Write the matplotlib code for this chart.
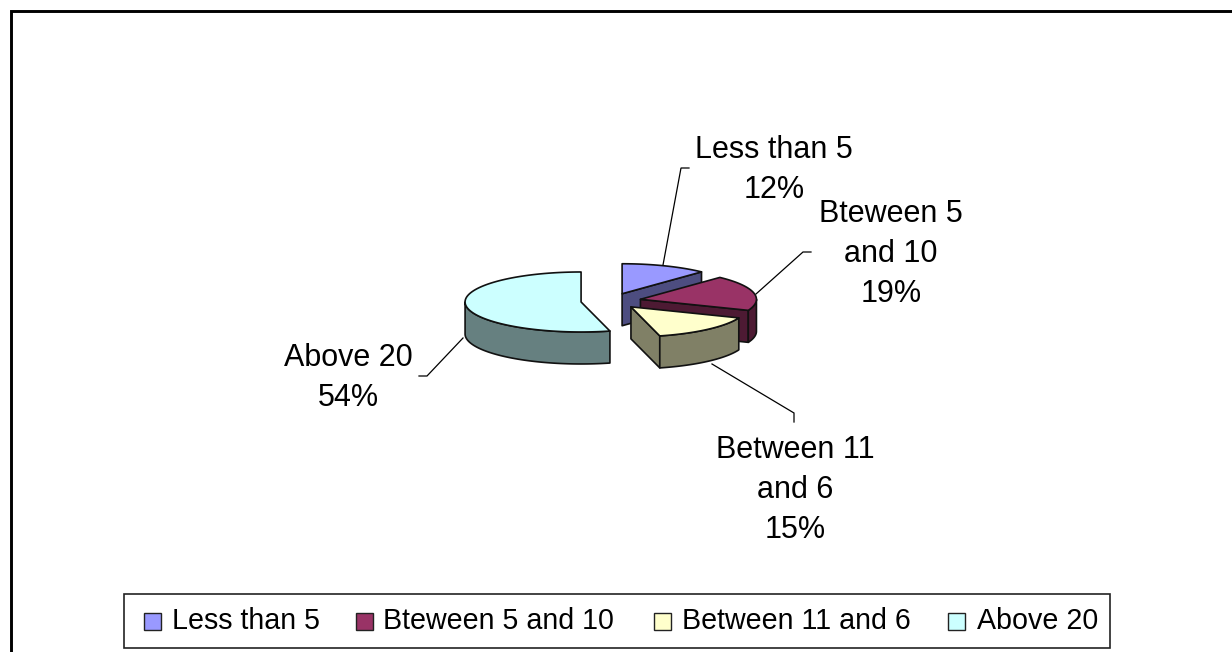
import numpy as np
import matplotlib
matplotlib.use('Agg')
import matplotlib.pyplot as plt
from matplotlib.patches import Polygon, Rectangle

labels = ['Less than 5', 'Bteween 5 and 10', 'Between 11 and 6', 'Above 20']
wrapped_labels = ['Less than 5', 'Bteween 5\nand 10', 'Between 11\nand 6', 'Above 20']
percents = [12, 19, 15, 54]
top_colors = ['#9999FF', '#993366', '#FFFFCC', '#CCFFFF']
side_colors = ['#4D4D80', '#4D1A33', '#808066', '#668080']

# pie geometry in figure pixels
CX, CY = 611, 301
RX, RY = 116, 30
DEPTH = 32
EXPLODE = 0.26

label_pos = [(774, 170), (891, 254), (795, 490), (348, 378)]
leaders = [
    [(663, 265), (681, 168), (689, 168)],
    [(756, 294), (803, 252), (811, 252)],
    [(712, 364), (794, 413), (794, 422)],
    [(463, 338), (427, 376), (419, 376)],
]

plt.rcParams['font.family'] = ['Liberation Sans', 'DejaVu Sans']

fig = plt.figure(figsize=(12.32, 6.52), dpi=100)
ax = fig.add_axes([0, 0, 1, 1])
ax.set_xlim(0, 1232)
ax.set_ylim(652, 0)
ax.axis('off')


def ellipse_pts(cx, cy, angles):
    rad = np.radians(angles)
    return np.column_stack([cx + RX * np.cos(rad), cy - RY * np.sin(rad)])


def extrude(pts):
    lower = pts[::-1] + [0, DEPTH]
    return np.vstack([pts, lower])


edge = dict(edgecolor='#111111', linewidth=1.2, joinstyle='round')
start = 90.0
for pct, top, side in zip(percents, top_colors, side_colors):
    end = start - pct * 3.6
    mid = np.radians((start + end) / 2)
    cx = CX + EXPLODE * RX * np.cos(mid)
    cy = CY - EXPLODE * RY * np.sin(mid)

    # cut face on the clockwise end, only when it faces the viewer
    if np.cos(np.radians(end)) > 1e-6:
        face = np.vstack([[[cx, cy]], ellipse_pts(cx, cy, [end])])
        ax.add_patch(Polygon(extrude(face), facecolor=side, **edge))

    # outer wall, lower half of the ellipse only
    angles = np.linspace(end, start, 400)
    lower = angles[np.sin(np.radians(angles)) <= 0]
    if len(lower) > 1:
        ax.add_patch(Polygon(extrude(ellipse_pts(cx, cy, lower)),
                             facecolor=side, **edge))

    outline = np.vstack([[[cx, cy]], ellipse_pts(cx, cy, angles)])
    ax.add_patch(Polygon(outline, facecolor=top, **edge))
    start = end

for pts in leaders:
    xs, ys = zip(*pts)
    ax.plot(xs, ys, color='black', lw=0.9, solid_joinstyle='miter')

for (x, y), text, pct in zip(label_pos, wrapped_labels, percents):
    ax.text(x, y, f'{text}\n{pct}%', ha='center', va='center', fontsize=22,
            linespacing=1.43, color='black')

# chart border, only the top and left edges show
ax.plot([10.5, 10.5, 1232], [652, 10.5, 10.5], color='black', lw=2.1,
        solid_joinstyle='miter', clip_on=False)

# legend box
ax.add_patch(Rectangle((124, 594), 986, 54, facecolor='white', edgecolor='#222222', lw=1.2))
swatch_x = [144, 356, 654, 948]
text_x = [172, 383, 682, 977]
for sx, tx, text, color in zip(swatch_x, text_x, labels, top_colors):
    ax.add_patch(Rectangle((sx, 613), 17, 17, facecolor=color, edgecolor='#222222', lw=1.0))
    ax.text(tx, 621, text, ha='left', va='center', fontsize=20.6, color='black')

fig.savefig('out.png', dpi=100, facecolor='white')
